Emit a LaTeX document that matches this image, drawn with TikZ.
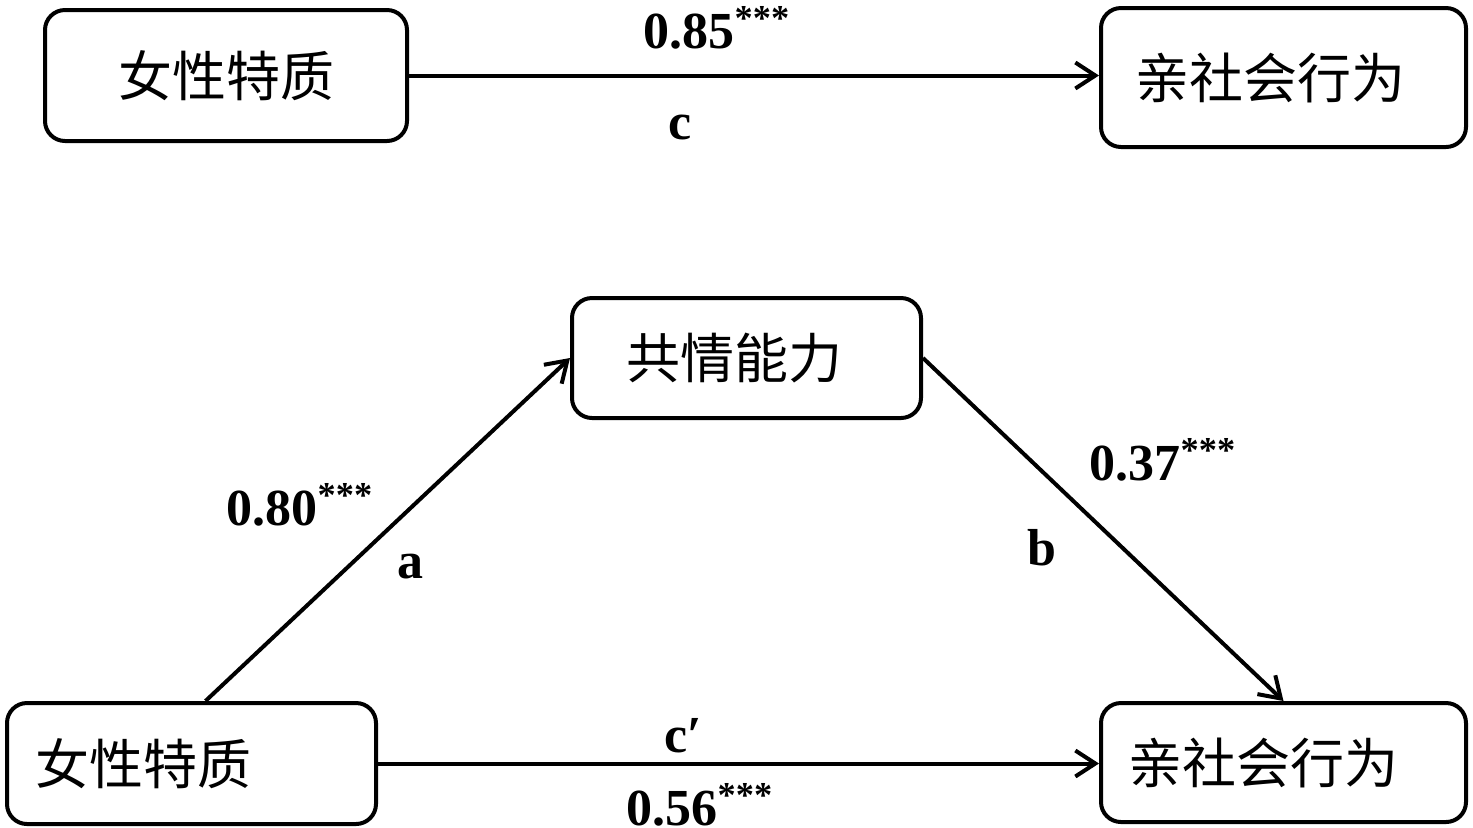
\documentclass[tikz,border=0pt]{standalone}
\usepackage{fontspec}
\setmainfont{Liberation Serif}
\newfontfamily\cjk{Noto Sans CJK SC}
\usetikzlibrary{arrows.meta}
\tikzset{
  varbox/.style={draw,line width=2pt,rounded corners=10pt,fill=white,
    inner sep=0pt,align=left,font=\cjk\fontsize{27}{30}\selectfont},
  coef/.style={font=\bfseries\fontsize{26}{30}\selectfont,inner sep=0pt},
  effect/.style={line width=2pt,-{Straight Barb[length=10pt,width=13pt]}}
}

\begin{document}
\begin{tikzpicture}[x=0.5pt,y=-0.5pt]
  \useasboundingbox (0,0) rectangle (1473,827);
  % total effect
  \node[varbox,minimum width=181pt,minimum height=65.5pt] (fem1) at (226,75.5) {女性特质};
  \node[varbox,minimum width=182.5pt,minimum height=69.5pt,text width=148.5pt,
    inner xsep=17pt] (pro1) at (1283.5,77.5) {亲社会行为};
  \draw[effect] (fem1.east) -- (fem1.east -| pro1.west);
  \node[coef] (c85) at (717,28) {0.85\textsuperscript{***}};
  \node[coef] (lc) at (680,127) {c};
  % mediation model
  \node[varbox,minimum width=174.5pt,minimum height=60pt,text width=120.5pt,
    inner xsep=27pt] (emp) at (746.5,358) {共情能力};
  \node[varbox,minimum width=184.5pt,minimum height=60.5pt,text width=156.5pt,
    inner xsep=14pt] (fem2) at (191.5,763.5) {女性特质};
  \node[varbox,minimum width=182.5pt,minimum height=59.5pt,text width=155.5pt,
    inner xsep=13.5pt] (pro2) at (1283.5,762.5) {亲社会行为};
  \draw[effect] ([xshift=7pt]fem2.north) -- (emp.west);
  \draw[effect] (emp.east) -- (pro2.north);
  \draw[effect] (fem2.east) -- (fem2.east -| pro2.west);
  \node[coef] (c80) at (300,505) {0.80\textsuperscript{***}};
  \node[coef] (la) at (410,567) {a};
  \node[coef] (c37) at (1163,460) {0.37\textsuperscript{***}};
  \node[coef] (lb) at (1042,548) {b};
  \node[coef] (lcp) at (683,736) {c′};
  \node[coef] (c56) at (700,805) {0.56\textsuperscript{***}};
\end{tikzpicture}
\end{document}
